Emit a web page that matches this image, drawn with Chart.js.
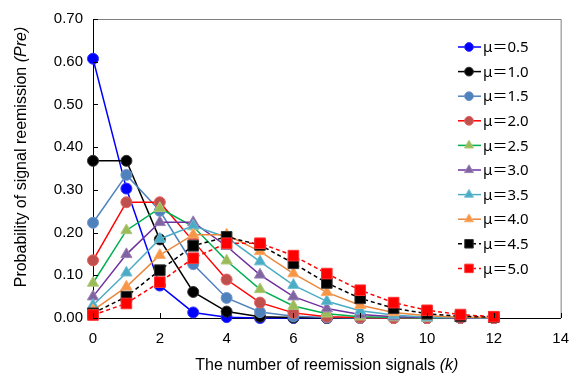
<!DOCTYPE html>
<html>
<head>
<meta charset="utf-8">
<script src="https://cdn.jsdelivr.net/npm/chart.js@4.4.1/dist/chart.umd.min.js"></script>
<style>
    html, body { margin: 0; padding: 0; background: #fff; }
    #wrap { position: relative; width: 581px; height: 378px; }
</style>
</head>
<body>
<div id="wrap"><canvas id="poissonChart"></canvas></div>
<script>
// number of reemission signals k
const kValues = [0, 1, 2, 3, 4, 5, 6, 7, 8, 9, 10, 11, 12];

// probability, one list per mean value
const mu05 = [0.607, 0.303, 0.076, 0.013, 0.002, 0.000, 0.000, 0.000, 0.000, 0.000, 0.000, 0.000, 0.000];
const mu10 = [0.368, 0.368, 0.184, 0.061, 0.015, 0.003, 0.001, 0.000, 0.000, 0.000, 0.000, 0.000, 0.000];
const mu15 = [0.223, 0.335, 0.251, 0.126, 0.047, 0.014, 0.004, 0.001, 0.000, 0.000, 0.000, 0.000, 0.000];
const mu20 = [0.135, 0.271, 0.271, 0.180, 0.090, 0.036, 0.012, 0.003, 0.001, 0.000, 0.000, 0.000, 0.000];
const mu25 = [0.082, 0.205, 0.257, 0.214, 0.134, 0.067, 0.028, 0.010, 0.003, 0.001, 0.000, 0.000, 0.000];
const mu30 = [0.050, 0.149, 0.224, 0.224, 0.168, 0.101, 0.050, 0.022, 0.008, 0.003, 0.001, 0.000, 0.000];
const mu35 = [0.030, 0.106, 0.185, 0.216, 0.189, 0.132, 0.077, 0.039, 0.017, 0.007, 0.002, 0.001, 0.000];
const mu40 = [0.018, 0.073, 0.147, 0.195, 0.195, 0.156, 0.104, 0.060, 0.030, 0.013, 0.005, 0.002, 0.001];
const mu45 = [0.011, 0.050, 0.112, 0.169, 0.190, 0.171, 0.128, 0.082, 0.046, 0.023, 0.010, 0.004, 0.002];
const mu50 = [0.007, 0.034, 0.084, 0.140, 0.175, 0.175, 0.146, 0.104, 0.065, 0.036, 0.018, 0.008, 0.003];

const seriesLabels = ['μ＝0.5', 'μ＝1.0', 'μ＝1.5', 'μ＝2.0', 'μ＝2.5', 'μ＝3.0', 'μ＝3.5', 'μ＝4.0', 'μ＝4.5', 'μ＝5.0'];
const seriesValues = [mu05, mu10, mu15, mu20, mu25, mu30, mu35, mu40, mu45, mu50];

// line colour, marker fill, marker edge, marker shape, dashed
const styles = [
    ['#0000ff', '#0000ff', '#3333ff', 'circle', false],
    ['#000000', '#000000', '#333333', 'circle', false],
    ['#4f81bd', '#4f81bd', '#6f97c9', 'circle', false],
    ['#ff0000', '#c0504d', '#e8605c', 'circle', false],
    ['#00b050', '#9bbb59', '#afc97a', 'triangle', false],
    ['#7030a0', '#8064a2', '#9a83b6', 'triangle', false],
    ['#4bacc6', '#4bacc6', '#6fbdd2', 'triangle', false],
    ['#e9883e', '#f79646', '#f9ab6b', 'triangle', false],
    ['#000000', '#000000', '#333333', 'rect', true],
    ['#ff0000', '#ff0000', '#ff3333', 'rect', true]
];

const datasets = seriesValues.map(function (vals, i) {
    const s = styles[i];
    const shape = s[3];
    return {
        label: seriesLabels[i],
        data: kValues.map(function (k, j) { return { x: k, y: vals[j] }; }),
        borderColor: s[0],
        borderWidth: 1.5,
        borderDash: s[4] ? [4, 3] : [],
        backgroundColor: s[1],
        pointBackgroundColor: s[1],
        pointBorderColor: s[2],
        pointBorderWidth: 1,
        pointStyle: shape,
        pointRadius: shape === 'rect' ? 7.5 : (shape === 'triangle' ? 6.5 : 5.5),
        tension: 0,
        clip: false,
        order: seriesValues.length - i
    };
});

const PLOT_LEFT = 93;
const PLOT_BOTTOM = 318;

// frame, inside ticks, axis titles with italic parts, and the legend
const decorPlugin = {
    id: 'decor',
    afterDraw: function (chart) {
        const ctx = chart.ctx;
        const a = chart.chartArea;
        const xs = chart.scales.x;
        const ys = chart.scales.y;
        ctx.save();

        // top / right frame
        ctx.strokeStyle = '#7f7f7f';
        ctx.lineWidth = 1;
        ctx.beginPath();
        ctx.moveTo(a.left, a.top + 0.5);
        ctx.lineTo(a.right + 0.5, a.top + 0.5);
        ctx.lineTo(a.right + 0.5, a.bottom);
        ctx.stroke();

        // inside tick marks
        ctx.strokeStyle = '#000';
        ctx.beginPath();
        xs.ticks.forEach(function (t) {
            const px = Math.round(xs.getPixelForValue(t.value)) + 0.5;
            ctx.moveTo(px, a.bottom);
            ctx.lineTo(px, a.bottom - 5);
        });
        ys.ticks.forEach(function (t) {
            const py = Math.round(ys.getPixelForValue(t.value)) + 0.5;
            ctx.moveTo(a.left, py);
            ctx.lineTo(a.left + 5, py);
        });
        ctx.stroke();

        // axis titles
        ctx.fillStyle = '#000';
        ctx.textBaseline = 'middle';
        function mixed(parts, cx, cy) {
            let total = 0;
            parts.forEach(function (p) {
                ctx.font = (p[1] ? 'italic ' : '') + '16px "Liberation Sans", Arial, sans-serif';
                total += ctx.measureText(p[0]).width;
            });
            let x = cx - total / 2;
            ctx.textAlign = 'left';
            parts.forEach(function (p) {
                ctx.font = (p[1] ? 'italic ' : '') + '16px "Liberation Sans", Arial, sans-serif';
                ctx.fillText(p[0], x, cy);
                x += ctx.measureText(p[0]).width;
            });
        }
        mixed([['The number of reemission signals ', false], ['(k)', true]], (a.left + a.right) / 2, 366);
        ctx.save();
        ctx.translate(22, 157);
        ctx.rotate(-Math.PI / 2);
        mixed([['Probability of signal reemission ', false], ['(Pre)', true]], 0, 0);
        ctx.restore();

        // legend
        const lx0 = 458, lx1 = 481, mx = 469, tx = 483;
        const y0 = 47, step = 24.6;
        chart.data.datasets.forEach(function (ds, i) {
            const y = y0 + i * step;
            ctx.strokeStyle = ds.borderColor;
            ctx.lineWidth = 1.5;
            ctx.setLineDash(ds.borderDash);
            ctx.beginPath();
            ctx.moveTo(lx0, y);
            ctx.lineTo(lx1, y);
            ctx.stroke();
            ctx.setLineDash([]);
            ctx.fillStyle = ds.pointBackgroundColor;
            ctx.strokeStyle = ds.pointBorderColor;
            ctx.lineWidth = 1;
            Chart.helpers.drawPoint(ctx, {
                pointStyle: ds.pointStyle,
                radius: ds.pointRadius * 0.8,
                borderWidth: 1,
                rotation: 0
            }, mx, y);
            ctx.fillStyle = '#000';
            ctx.font = '15px "Noto Sans", "Noto Sans CJK JP", sans-serif';
            ctx.textAlign = 'left';
            ctx.textBaseline = 'middle';
            ctx.fillText(ds.label, tx, y + 1);
        });
        ctx.restore();
    }
};

new Chart(document.getElementById('poissonChart'), {
    type: 'line',
    data: { datasets: datasets },
    options: {
        responsive: true,
        maintainAspectRatio: false,
        animation: false,
        layout: { padding: { left: 0, right: 18, top: 14, bottom: 0 } },
        plugins: {
            legend: { display: false },
            tooltip: { enabled: false }
        },
        scales: {
            x: {
                type: 'linear',
                min: 0,
                max: 14,
                grid: { display: true, drawOnChartArea: false, drawTicks: false },
                border: { color: '#000', width: 1 },
                ticks: {
                    stepSize: 2,
                    padding: 12,
                    color: '#000',
                    font: { family: '"Liberation Sans", Arial, sans-serif', size: 15 }
                },
                afterFit: function (scale) { scale.height = 378 - PLOT_BOTTOM; }
            },
            y: {
                min: 0,
                max: 0.7,
                grid: { display: true, drawOnChartArea: false, drawTicks: false },
                border: { color: '#000', width: 1 },
                ticks: {
                    stepSize: 0.1,
                    padding: 10,
                    color: '#000',
                    font: { family: '"Liberation Sans", Arial, sans-serif', size: 15 },
                    callback: function (v) { return Number(v).toFixed(2); }
                },
                afterFit: function (scale) { scale.width = PLOT_LEFT; }
            }
        }
    },
    plugins: [decorPlugin]
});
</script>
</body>
</html>
